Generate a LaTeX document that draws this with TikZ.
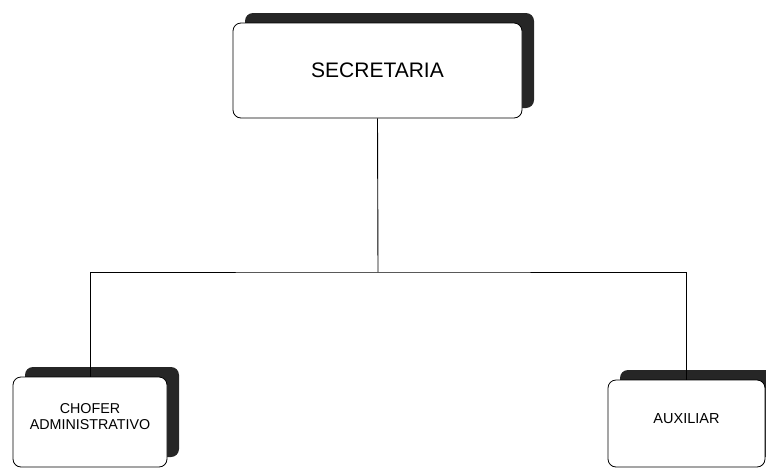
\documentclass[tikz,border=0pt]{standalone}
\usepackage{fontspec}
\setmainfont{Liberation Sans}
\usetikzlibrary{shadows}

\tikzset{
	puesto/.style={draw, thick, rounded corners=8pt, fill=white, align=center,
		general shadow={fill=black!85, shadow xshift=12pt, shadow yshift=10pt}},
	enlace/.style={line width=0.9pt}
}

\begin{document}
\begin{tikzpicture}[x=1pt, y=-1pt]
			
			% page frame
			\useasboundingbox (0,0) rectangle (766,469);
			\clip (0,0) rectangle (766,469);
			
			% boxes
			\node[puesto, minimum width=289pt, minimum height=95pt, font=\fontsize{21}{25}\selectfont]
			(sec) at (377.5,70.5) {SECRETARIA};
			\node[puesto, minimum width=154pt, minimum height=90pt, text depth=10pt, font=\fontsize{14.3}{16}\selectfont]
			(chofer) at (90,422) {CHOFER\\ADMINISTRATIVO};
			\node[puesto, minimum width=157pt, minimum height=87pt, text depth=10pt, font=\fontsize{14.5}{16}\selectfont]
			(aux) at (686.5,423.5) {AUXILIAR};
			
			% branch point
			\coordinate (bus) at (378,272);
			
			% lines
			\draw[enlace] (sec.south) -- (bus);
			\draw[enlace] (chofer.north) |- (bus) -| (aux.north);
			
		\end{tikzpicture}
\end{document}
